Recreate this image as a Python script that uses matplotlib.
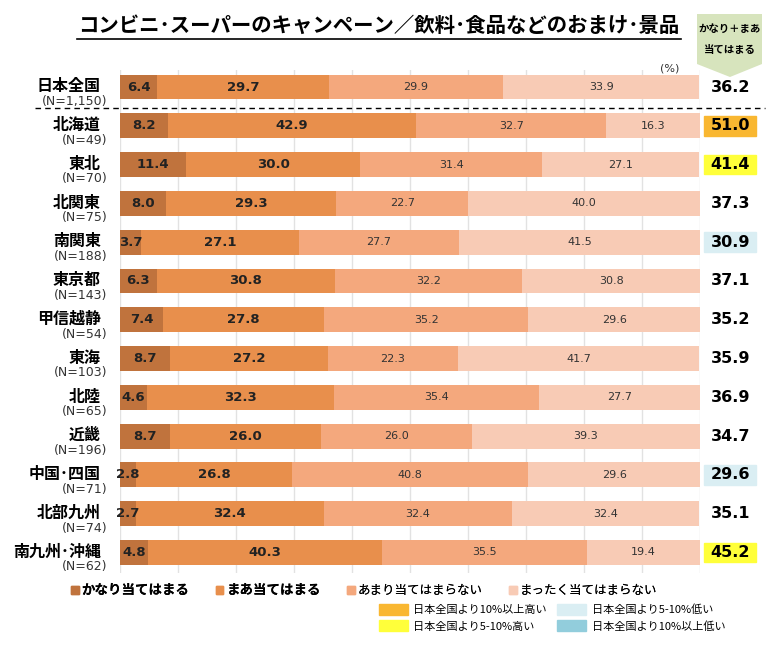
import matplotlib
matplotlib.use("Agg")
import matplotlib.pyplot as plt
from matplotlib.patches import Patch, Polygon, Rectangle
from matplotlib.lines import Line2D

JP = ["Noto Sans CJK JP", "DejaVu Sans"]
NUM = ["DejaVu Sans", "Noto Sans CJK JP"]
plt.rcParams["font.family"] = JP

# ---- data ----
regions = ["日本全国", "北海道", "東北", "北関東", "南関東", "東京都", "甲信越静",
           "東海", "北陸", "近畿", "中国･四国", "北部九州", "南九州･沖縄"]
ns = ["1,150", "49", "70", "75", "188", "143", "54", "103", "65", "196", "71", "74", "62"]
kanari = [6.4, 8.2, 11.4, 8.0, 3.7, 6.3, 7.4, 8.7, 4.6, 8.7, 2.8, 2.7, 4.8]
maa = [29.7, 42.9, 30.0, 29.3, 27.1, 30.8, 27.8, 27.2, 32.3, 26.0, 26.8, 32.4, 40.3]
amari = [29.9, 32.7, 31.4, 22.7, 27.7, 32.2, 35.2, 22.3, 35.4, 26.0, 40.8, 32.4, 35.5]
mattaku = [33.9, 16.3, 27.1, 40.0, 41.5, 30.8, 29.6, 41.7, 27.7, 39.3, 29.6, 32.4, 19.4]
totals = [36.2, 51.0, 41.4, 37.3, 30.9, 37.1, 35.2, 35.9, 36.9, 34.7, 29.6, 35.1, 45.2]
# highlight class per region: 0 none, 1 >=10 higher, 2 5-10 higher, 3 5-10 lower, 4 >=10 lower
marks = [0, 1, 2, 0, 3, 0, 0, 0, 0, 0, 3, 0, 2]

series_names = ["かなり当てはまる", "まあ当てはまる", "あまり当てはまらない", "まったく当てはまらない"]
series = [kanari, maa, amari, mattaku]
colors = ["#C0733D", "#E88F4C", "#F4A87D", "#F8CBB5"]
mark_names = ["日本全国より10%以上高い", "日本全国より5-10%高い",
              "日本全国より5-10%低い", "日本全国より10%以上低い"]
mark_colors = ["#F9B731", "#FFFF3A", "#DAEEF3", "#92CDDC"]

W, H = 780, 650
fig = plt.figure(figsize=(W / 100, H / 100), dpi=100)

def fx(x):
    return x / W

def fy(y):
    return 1 - y / H

top, bot = 70, 573
ax = fig.add_axes([fx(120), fy(bot), fx(700) - fx(120), fy(top) - fy(bot)])
ax.set_xlim(0, 100)
ax.set_ylim(12.53, -0.44)
for s in ax.spines.values():
    s.set_visible(False)
ax.set_xticks(range(0, 101, 10))
ax.set_yticks([])
ax.tick_params(axis="x", length=0, labelbottom=False)
ax.grid(axis="x", color="#e2e2e2", lw=1)
ax.set_axisbelow(True)

ys = list(range(len(regions)))
left = [0.0] * len(regions)
for k, (vals, col) in enumerate(zip(series, colors)):
    ax.barh(ys, vals, left=left, height=0.64, color=col, zorder=2)
    for i, v in enumerate(vals):
        cx = left[i] + v / 2
        if k < 2:
            ax.text(cx, i, f"{v:.1f}", ha="center", va="center", fontsize=9.5,
                    fontweight="bold", family=NUM, color="#222222", zorder=3)
        else:
            ax.text(cx, i, f"{v:.1f}", ha="center", va="center", fontsize=8,
                    family=NUM, color="#333333", zorder=3)
    left = [a + b for a, b in zip(left, vals)]

# region labels and N
for i, (r, n) in enumerate(zip(regions, ns)):
    ax.text(-3.3, i - 0.02, r, ha="right", va="center", fontsize=11.5,
            fontweight="bold", clip_on=False)
    ax.text(-2.2, i + 0.37, f"(N={n})", ha="right", va="center", fontsize=9,
            family=NUM, color="#333333", clip_on=False)

# totals column
for i, (t, m) in enumerate(zip(totals, marks)):
    if m:
        ax.add_patch(Rectangle((100.7, i - 0.25), 9.0, 0.5, color=mark_colors[m - 1],
                               clip_on=False, zorder=1))
    ax.text(105.2, i, f"{t:.1f}", ha="center", va="center", fontsize=11.5,
            fontweight="bold", family=NUM, clip_on=False, zorder=3)

ax.text(94.8, -0.49, "(%)", ha="center", va="center", fontsize=8, family=NUM,
        color="#333333", clip_on=False)

# dashed separator under 日本全国
fig.add_artist(Line2D([fx(35), fx(765)], [fy(108), fy(108)], color="black",
                      lw=1, ls=(0, (4, 3))))

# title with underline
fig.text(fx(379), fy(25), "コンビニ･スーパーのキャンペーン／飲料･食品などのおまけ･景品",
         ha="center", va="center", fontsize=14.7, fontweight="bold")
fig.add_artist(Line2D([fx(77), fx(681)], [fy(39), fy(39)], color="black", lw=1.2))

# badge
badge = Polygon([(fx(697), fy(14)), (fx(762), fy(14)), (fx(762), fy(64)),
                 (fx(730), fy(77)), (fx(697), fy(64))], closed=True,
                facecolor="#D7E4BD", edgecolor="none", transform=fig.transFigure)
fig.add_artist(badge)
fig.text(fx(730), fy(29), "かなり＋まあ", ha="center", va="center", fontsize=7.5,
         fontweight="bold")
fig.text(fx(730), fy(50), "当てはまる", ha="center", va="center", fontsize=7.5,
         fontweight="bold")

# legends
h1 = [Patch(color=c) for c in colors]
leg1 = fig.legend(h1, series_names, loc="center left", bbox_to_anchor=(fx(71), fy(590)),
                  ncol=4, frameon=False, fontsize=9, handlelength=0.6,
                  handleheight=0.6, handletextpad=0.25, columnspacing=2.1,
                  borderpad=0, borderaxespad=0)
for t in leg1.get_texts()[:2]:
    t.set_fontweight("bold")
    t.set_fontsize(9.7)

h2 = [Patch(color=c) for c in mark_colors]
leg2 = fig.legend(h2, mark_names, loc="upper left", bbox_to_anchor=(fx(379), fy(604)),
                  ncol=2, frameon=False, fontsize=8, handlelength=2.6,
                  handleheight=1.15, handletextpad=0.5, columnspacing=0.9,
                  labelspacing=0.45, borderpad=0, borderaxespad=0)
fig.add_artist(leg1)

fig.savefig("out.png", dpi=100)
